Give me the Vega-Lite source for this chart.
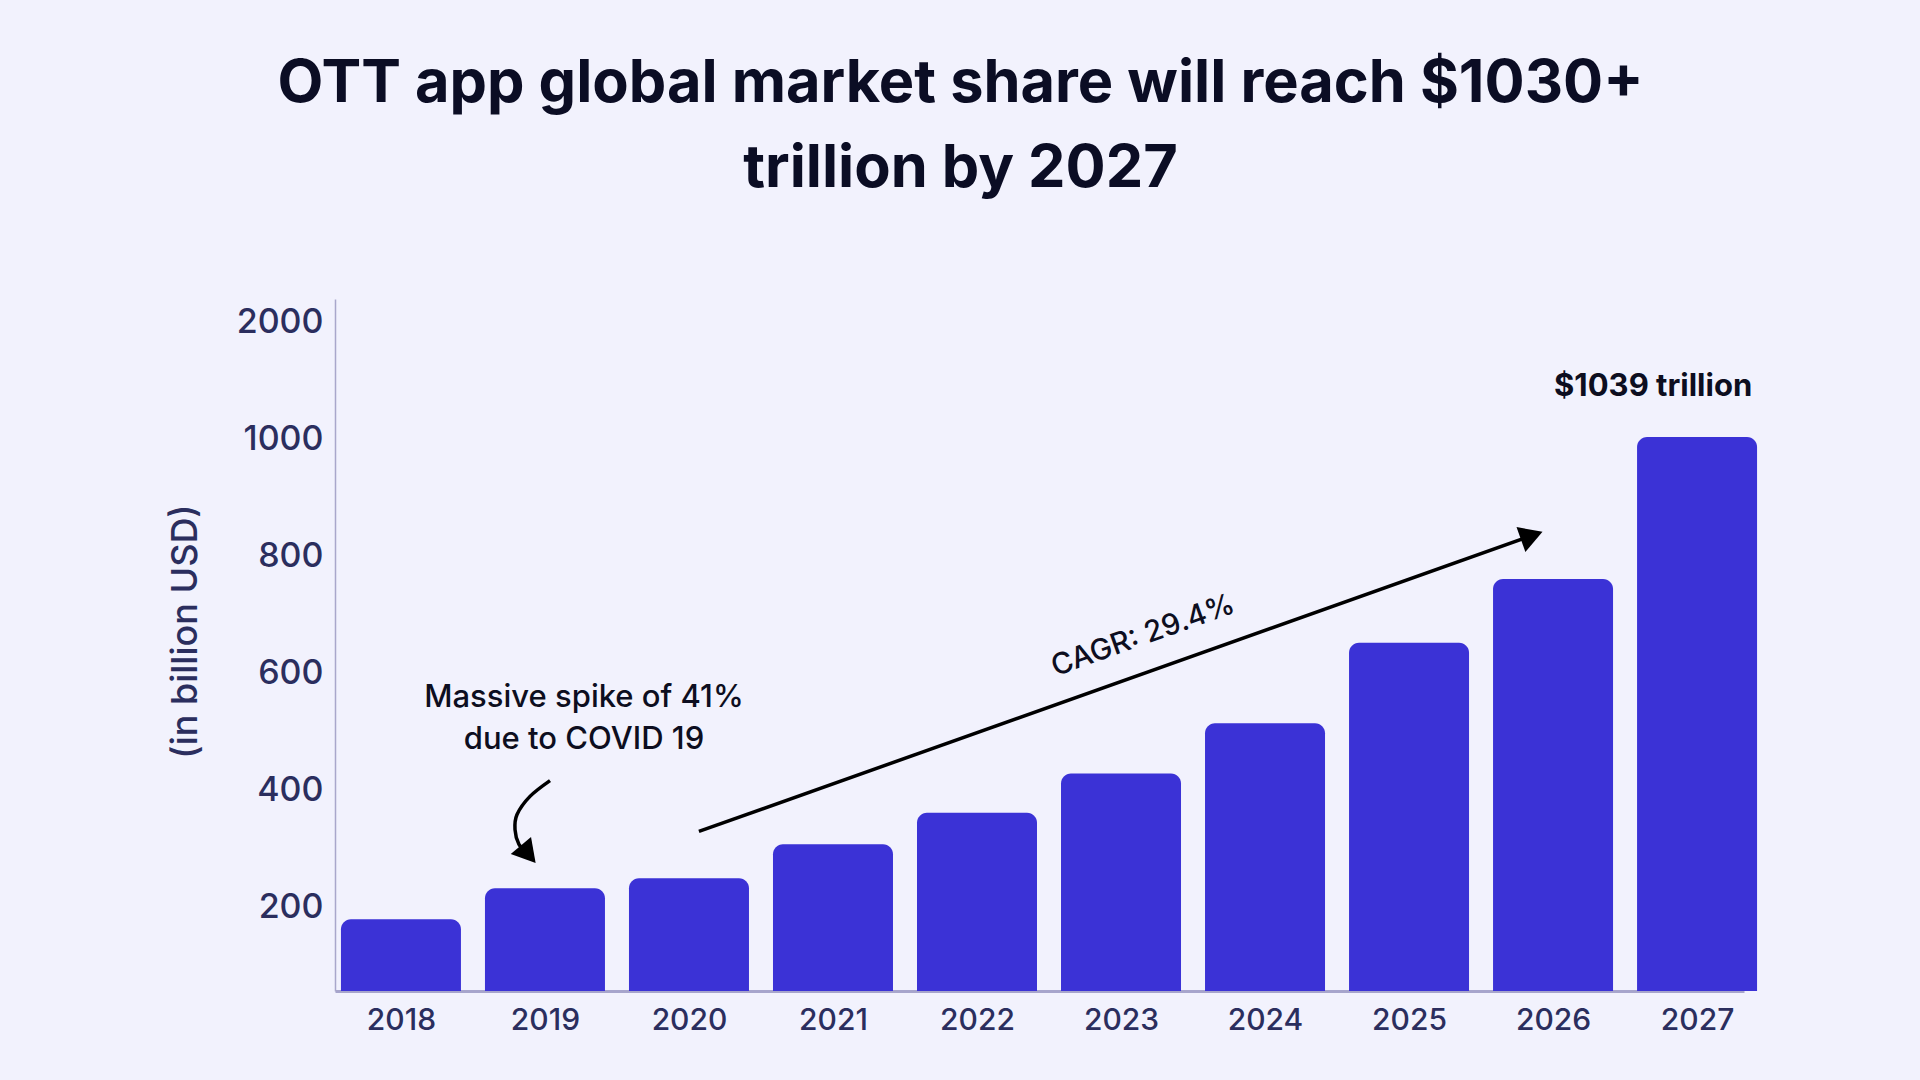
{
  "$schema": "https://vega.github.io/schema/vega-lite/v6.json",
  "width": 1409,
  "height": 692,
  "autosize": {"type": "none"},
  "padding": {"left": 335, "top": 299, "right": 176, "bottom": 89},
  "background": "#F2F2FD",
  "title": {
    "text": ["OTT app global market share will reach $1030+", "trillion by 2027"],
    "anchor": "middle",
    "frame": "group",
    "dx": -79,
    "offset": 100,
    "font": "Inter",
    "fontSize": 59.5,
    "fontWeight": 700,
    "lineHeight": 85,
    "color": "#0B0D24"
  },
  "datasets": {
    "ott": [
      {"year": 2018, "value": 175},
      {"year": 2019, "value": 228},
      {"year": 2020, "value": 245},
      {"year": 2021, "value": 303},
      {"year": 2022, "value": 357},
      {"year": 2023, "value": 424},
      {"year": 2024, "value": 510},
      {"year": 2025, "value": 648},
      {"year": 2026, "value": 757},
      {"year": 2027, "value": 1000}
    ],
    "covidArrow": [
      {"o": 1, "year": 2019.035, "value": 412},
      {"o": 2, "year": 2018.896, "value": 385},
      {"o": 3, "year": 2018.806, "value": 354},
      {"o": 4, "year": 2018.792, "value": 328},
      {"o": 5, "year": 2018.819, "value": 303},
      {"o": 6, "year": 2018.868, "value": 291}
    ],
    "cagrArrow": [
      {"o": 1, "year": 2020.069, "value": 325},
      {"o": 2, "year": 2025.84, "value": 830}
    ],
    "heads": [
      {"year": 2018.884, "value": 286, "angle": 140},
      {"year": 2025.852, "value": 831, "angle": 70.4}
    ]
  },
  "layer": [
    {
      "data": {"name": "ott"},
      "mark": {
        "type": "bar",
        "width": 120,
        "color": "#3B32D6",
        "cornerRadiusTopLeft": 10,
        "cornerRadiusTopRight": 10
      },
      "encoding": {
        "x": {
          "field": "year",
          "type": "quantitative",
          "scale": {"domain": [2017.542, 2027.326], "nice": false, "zero": false, "padding": 0},
          "axis": {
            "values": [2018, 2019, 2020, 2021, 2022, 2023, 2024, 2025, 2026, 2027],
            "format": "d",
            "title": null,
            "grid": false,
            "ticks": false,
            "domainColor": "#A7A5CC",
            "domainWidth": 3,
            "labelFont": "Inter",
            "labelFontSize": 30,
            "labelFontWeight": 500,
            "labelColor": "#2B2E5E",
            "labelPadding": 14
          }
        },
        "y": {
          "field": "value",
          "type": "quantitative",
          "scale": {"domain": [52.1, 1235.9], "nice": false, "zero": false, "padding": 0},
          "axis": {
            "values": [200, 400, 600, 800, 1000, 1200],
            "format": "d",
            "labelExpr": "datum.value == 1200 ? '2000' : datum.label",
            "title": "(in billion USD)",
            "titleFont": "Inter",
            "titleFontSize": 36,
            "titleFontWeight": 500,
            "titleColor": "#2B2E5E",
            "titleX": -150,
            "titleY": 332,
            "titleBaseline": "middle",
            "grid": false,
            "ticks": false,
            "domainColor": "#A9A7CB",
            "domainWidth": 1.5,
            "labelFont": "Inter",
            "labelFontSize": 34,
            "labelFontWeight": 500,
            "labelColor": "#2B2E5E",
            "labelPadding": 12,
            "labelOffset": 2.5
          }
        },
        "y2": {"datum": 52.1}
      }
    },
    {
      "data": {"name": "covidArrow"},
      "mark": {"type": "line", "interpolate": "cardinal", "color": "#000000", "strokeWidth": 3.5},
      "encoding": {
        "x": {"field": "year", "type": "quantitative"},
        "y": {"field": "value", "type": "quantitative"},
        "order": {"field": "o"}
      }
    },
    {
      "data": {"name": "cagrArrow"},
      "mark": {"type": "line", "color": "#000000", "strokeWidth": 3.5},
      "encoding": {
        "x": {"field": "year", "type": "quantitative"},
        "y": {"field": "value", "type": "quantitative"},
        "order": {"field": "o"}
      }
    },
    {
      "data": {"name": "heads"},
      "mark": {"type": "point", "shape": "triangle-up", "filled": true, "color": "#000000", "opacity": 1, "size": 700},
      "encoding": {
        "x": {"field": "year", "type": "quantitative"},
        "y": {"field": "value", "type": "quantitative"},
        "angle": {"field": "angle", "type": "quantitative", "scale": null}
      }
    },
    {
      "data": {"values": [{}]},
      "mark": {
        "type": "text",
        "text": ["Massive spike of 41%", "due to COVID 19"],
        "font": "Inter",
        "fontSize": 31,
        "fontWeight": 500,
        "lineHeight": 42,
        "align": "center",
        "baseline": "middle",
        "color": "#0D0E20"
      },
      "encoding": {
        "x": {"datum": 2019.271, "type": "quantitative"},
        "y": {"datum": 553, "type": "quantitative"}
      }
    },
    {
      "data": {"values": [{}]},
      "mark": {
        "type": "text",
        "text": "CAGR: 29.4%",
        "font": "Inter",
        "fontSize": 29.5,
        "fontWeight": 500,
        "angle": -19.6,
        "align": "center",
        "baseline": "middle",
        "color": "#0D0E20"
      },
      "encoding": {
        "x": {"datum": 2023.153, "type": "quantitative"},
        "y": {"datum": 660, "type": "quantitative"}
      }
    },
    {
      "data": {"values": [{}]},
      "mark": {
        "type": "text",
        "text": "$1039 trillion",
        "font": "Inter",
        "fontSize": 31,
        "fontWeight": 700,
        "align": "center",
        "baseline": "middle",
        "color": "#0D0E20"
      },
      "encoding": {
        "x": {"datum": 2026.695, "type": "quantitative"},
        "y": {"datum": 1086, "type": "quantitative"}
      }
    }
  ],
  "config": {"view": {"stroke": null}}
}
